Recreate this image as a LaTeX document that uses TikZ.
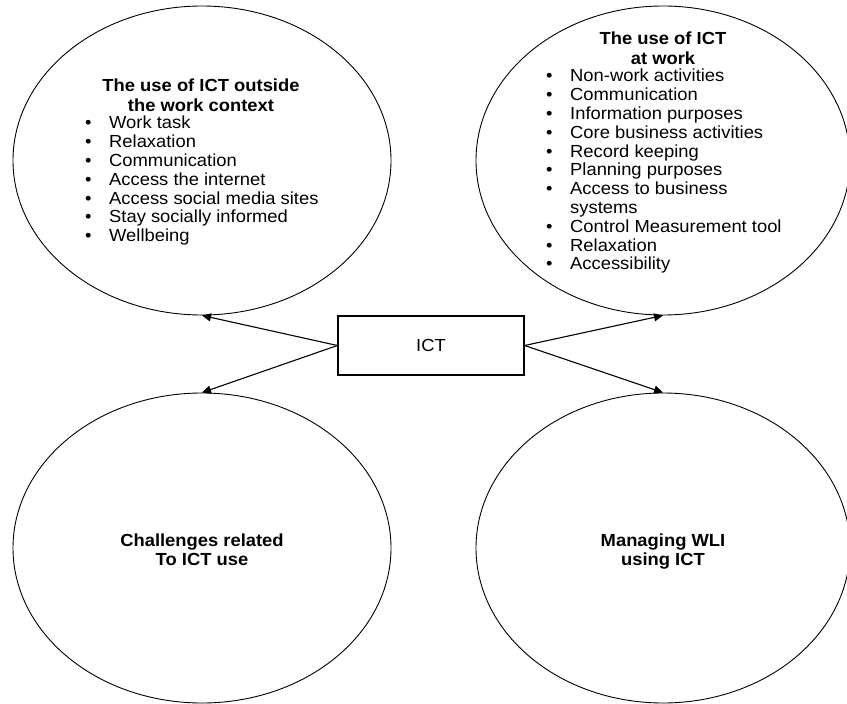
\documentclass[tikz,border=0pt]{standalone}
\usepackage{fontspec}
\setmainfont[FakeStretch=1.05]{Liberation Sans}
\usepackage{array}
\usetikzlibrary{shapes.geometric, arrows.meta}

\tikzset{
  oval/.style={draw, ellipse, line width=0.9pt, inner sep=0pt},
  ictbox/.style={draw, line width=1.2pt, minimum width=186pt, minimum height=59pt, inner sep=0pt},
  link/.style={line width=1.1pt, -{Triangle[length=9pt,width=8pt]}},
}

\newcommand{\bigtext}{\fontsize{17.5}{18.8}\selectfont}

\begin{document}
\begin{tikzpicture}[x=1pt,y=1pt,yscale=-1,xscale=1]
\useasboundingbox (0,0) rectangle (847,704);

%Shape: Ellipse [id:tl]
\draw (202,160.5) node [oval, minimum width=378pt, minimum height=309pt] (tl) {};
%Shape: Ellipse [id:tr]
\draw (663,160.5) node [oval, minimum width=374pt, minimum height=309pt] (tr) {};
%Shape: Ellipse [id:bl]
\draw (202,548) node [oval, minimum width=378pt, minimum height=310pt] (bl) {};
%Shape: Ellipse [id:br]
\draw (663,548) node [oval, minimum width=374pt, minimum height=310pt] (br) {};

%Shape: Rectangle [id:ict]
\draw (431,345.5) node [ictbox, font=\bigtext] (ict) {ICT};

%Straight Lines with arrows
\draw [link] (ict.west) -- (tl.south);
\draw [link] (ict.west) -- (bl.north);
\draw [link] (ict.east) -- (tr.south);
\draw [link] (ict.east) -- (br.north);

% Text Node
\draw (201,79) node [anchor=north][inner sep=0pt][align=center, font=\bigtext\bfseries] (tlhead) {The use of ICT outside\\[1.2pt] the work context};
% Text Node
\draw (85,115.5) node [anchor=north west][inner sep=0pt][font=\bigtext] (tllist) {%
\renewcommand{\arraystretch}{1}%
\begin{tabular}{@{}p{24pt}@{}l@{}}
\textbullet & Work task\\
\textbullet & Relaxation\\
\textbullet & Communication\\
\textbullet & Access the internet\\
\textbullet & Access social media sites\\
\textbullet & Stay socially informed\\
\textbullet & Wellbeing
\end{tabular}};
% Text Node
\draw (663,32) node [anchor=north][inner sep=0pt][align=center, font=\bigtext\bfseries] (trhead) {The use of ICT\\[1.2pt] at work};
% Text Node
\draw (546,68.5) node [anchor=north west][inner sep=0pt][font=\bigtext] (trlist) {%
\renewcommand{\arraystretch}{1}%
\begin{tabular}{@{}p{24pt}@{}l@{}}
\textbullet & Non-work activities\\
\textbullet & Communication\\
\textbullet & Information purposes\\
\textbullet & Core business activities\\
\textbullet & Record keeping\\
\textbullet & Planning purposes\\
\textbullet & Access to business\\
 & systems\\
\textbullet & Control Measurement tool\\
\textbullet & Relaxation\\
\textbullet & Accessibility
\end{tabular}};
% Text Node
\draw (202,534) node [anchor=north][inner sep=0pt][align=center, font=\bigtext\bfseries] (bltext) {Challenges related\\ To ICT use};
% Text Node
\draw (663,534) node [anchor=north][inner sep=0pt][align=center, font=\bigtext\bfseries] (brtext) {Managing WLI\\ using ICT};

\end{tikzpicture}
\end{document}
